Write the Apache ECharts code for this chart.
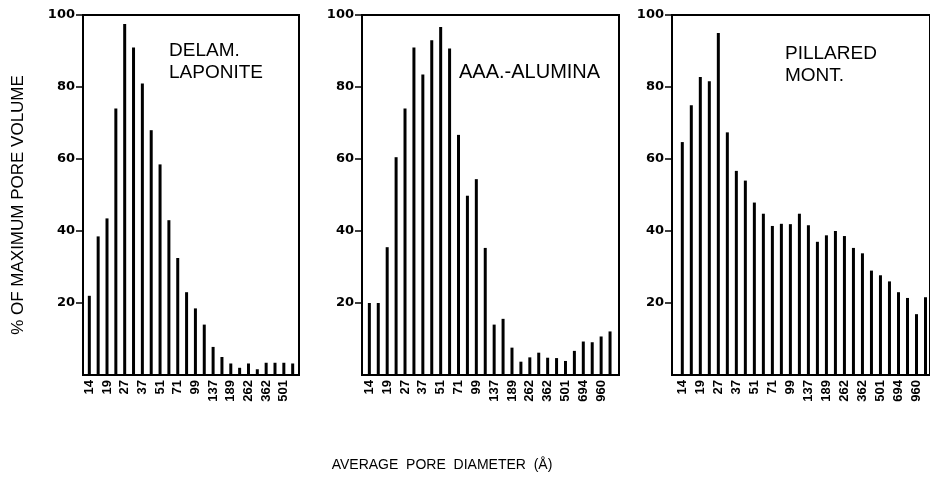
<!DOCTYPE html>
<html><head><meta charset="utf-8">
<script src="https://cdn.jsdelivr.net/npm/echarts@6/dist/echarts.min.js"></script>
<style>html,body{margin:0;padding:0;background:#fff}#c{width:930px;height:483px}</style>
</head><body><div id="c"></div>
<script>
// Category labels (average pore diameter, Å); every other one is printed
const diamShort = ['14','16','19','23','27','32','37','44','51','60','71','84','99','116','137','161','189','222','262','308','362','425','501','590'];
const diamLong = diamShort.concat(['694','816','960','1130']);
// % of maximum pore volume
const delamLaponite = [22,38.5,43.5,74,97.5,91,81,68,58.5,43,32.5,23,18.5,14,7.8,5,3.2,2,3.2,1.6,3.4,3.4,3.4,3.2];
const aaaAlumina = [20,20,35.5,60.5,74,91,83.5,93,96.7,90.7,66.7,49.8,54.4,35.3,14,15.6,7.6,3.7,4.9,6.2,4.8,4.7,3.9,6.7,9.3,9.1,10.7,12.1];
const pillaredMont = [64.7,74.9,82.8,81.6,95,67.4,56.7,54,47.9,44.8,41.4,42,41.9,44.8,41.6,37,38.8,40,38.6,35.3,33.8,29,27.7,26,23,21.4,16.9,21.6];
const yTickValues = [20,40,60,80,100];

const panels = [
  {frame:[83,216], data:[84.9,212.2], cats:diamShort, vals:delamLaponite},
  {frame:[362,257], data:[364.9,249.6], cats:diamLong, vals:aaaAlumina},
  {frame:[672,280], data:[677.8,255.1], cats:diamLong, vals:pillaredMont}
];
const TOP = 15, H = 360;
const FONT = '"Liberation Sans", Arial, sans-serif';
const grid = [], xAxis = [], yAxis = [], series = [];
panels.forEach((p, i) => {
  grid.push({left:p.frame[0], top:TOP, width:p.frame[1], height:H, show:true, borderColor:'#000', borderWidth:2, backgroundColor:'transparent'});
  grid.push({left:p.data[0], top:TOP, width:p.data[1], height:H});
  xAxis.push({gridIndex:2*i, type:'value', min:0, max:1, show:false});
  yAxis.push({gridIndex:2*i, type:'value', min:0, max:100, interval:20,
    axisLine:{show:false}, splitLine:{show:false},
    axisTick:{show:true, length:7, customValues:yTickValues, lineStyle:{color:'#000', width:1.5}},
    axisLabel:{color:'#000', fontSize:13, fontWeight:'bold', fontFamily:'"DejaVu Sans", sans-serif', margin:8,
      customValues:yTickValues}});
  xAxis.push({gridIndex:2*i+1, type:'category', data:p.cats, boundaryGap:true,
    axisLine:{show:false}, axisTick:{show:false},
    axisLabel:{interval:1, rotate:90, color:'#000', fontSize:13, fontWeight:'bold', fontFamily:FONT, margin:5}});
  yAxis.push({gridIndex:2*i+1, type:'value', min:0, max:100, show:false});
  series.push({type:'bar', xAxisIndex:2*i+1, yAxisIndex:2*i+1, data:p.vals, barWidth:3,
    itemStyle:{color:'#000'}, animation:false});
});

const chart = echarts.init(document.getElementById('c'), null, {renderer:'canvas'});
chart.setOption({
  animation:false,
  backgroundColor:'#fff',
  grid, xAxis, yAxis, series,
  graphic:[
    {type:'text', left:169, top:40, style:{text:'DELAM.\nLAPONITE', font:'19px '+FONT, fill:'#000', lineHeight:22}},
    {type:'text', left:459, top:62, style:{text:'AAA.-ALUMINA', font:'20px '+FONT, fill:'#000'}},
    {type:'text', left:785, top:43, style:{text:'PILLARED\nMONT.', font:'19px '+FONT, fill:'#000', lineHeight:22}},
    {type:'text', x:18, y:205, rotation:Math.PI/2, style:{text:'% OF MAXIMUM PORE VOLUME', font:'17px '+FONT, fill:'#000', align:'center', verticalAlign:'middle'}},
    {type:'text', x:442, y:465, style:{text:'AVERAGE  PORE  DIAMETER  (Å)', font:'14px '+FONT, fill:'#000', align:'center', verticalAlign:'middle'}}
  ]
});
</script></body></html>
